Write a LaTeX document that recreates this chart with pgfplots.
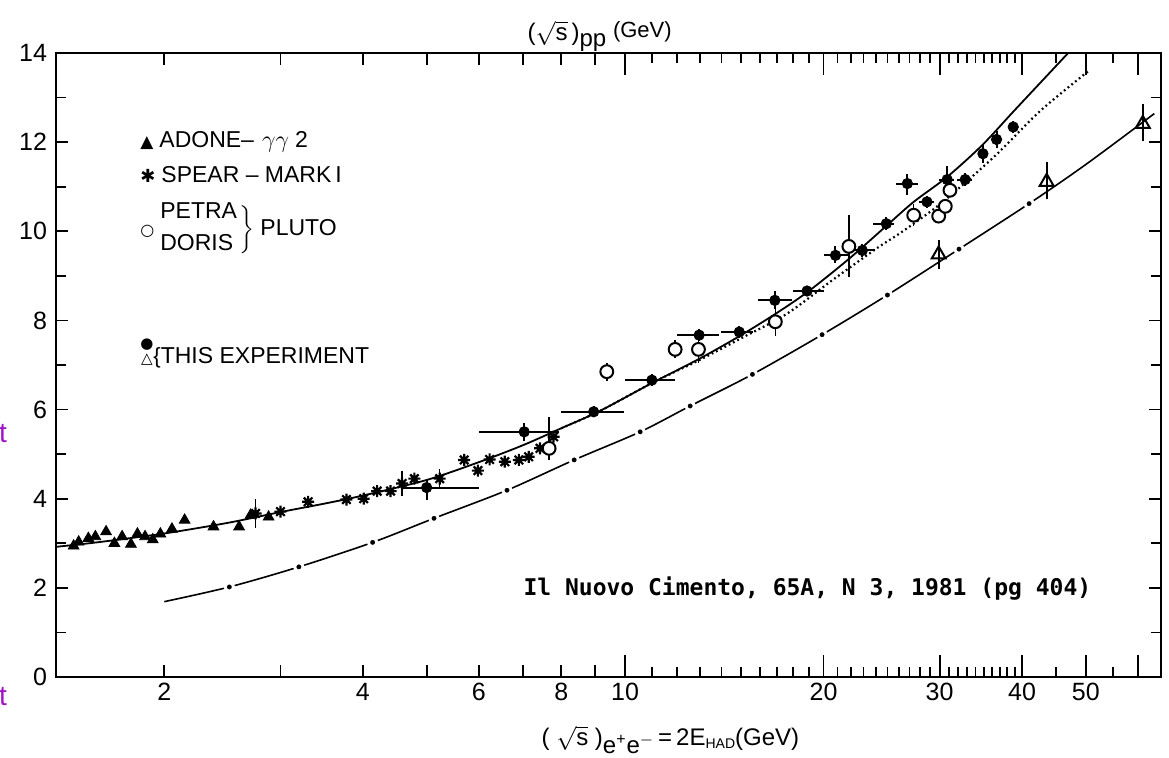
\documentclass[border=0pt]{standalone}
\usepackage{fontspec}
\setmainfont{Liberation Sans}
\newfontfamily\symfont{DejaVu Sans}
\newfontfamily\citefont{DejaVu Sans Mono}
\usepackage{pgfplots}
\usepackage{pgfplotstable}
\pgfplotsset{compat=1.18}

\definecolor{webpurple}{RGB}{160,20,200}

% eight-arm asterisk used by the SPEAR points
\pgfdeclareplotmark{star8}{%
  \pgfpathmoveto{\pgfqpointpolar{0}{\pgfplotmarksize}}\pgfpathlineto{\pgfqpointpolar{180}{\pgfplotmarksize}}%
  \pgfpathmoveto{\pgfqpointpolar{45}{\pgfplotmarksize}}\pgfpathlineto{\pgfqpointpolar{225}{\pgfplotmarksize}}%
  \pgfpathmoveto{\pgfqpointpolar{90}{\pgfplotmarksize}}\pgfpathlineto{\pgfqpointpolar{270}{\pgfplotmarksize}}%
  \pgfpathmoveto{\pgfqpointpolar{135}{\pgfplotmarksize}}\pgfpathlineto{\pgfqpointpolar{315}{\pgfplotmarksize}}%
  \pgfusepathqstroke}

% ADONE gamma-gamma 2
\pgfplotstableread{
x y
1.457 2.94
1.483 3.03
1.534 3.11
1.572 3.15
1.632 3.26
1.680 3.00
1.726 3.15
1.780 2.98
1.821 3.21
1.870 3.15
1.921 3.08
1.973 3.21
2.054 3.32
2.147 3.52
2.375 3.37
2.597 3.37
2.703 3.63
2.879 3.59
}\adone

% SPEAR - MARK I
\pgfplotstableread{
x y ey
2.751 3.67 0.33
3.001 3.71 0
3.305 3.93 0
3.778 3.98 0
4.013 4.00 0
4.206 4.17 0
4.408 4.17 0
4.589 4.34 0.28
4.790 4.45 0
5.233 4.45 0.22
5.700 4.87 0
5.980 4.63 0
6.230 4.88 0
6.570 4.83 0
6.900 4.87 0
7.140 4.94 0
7.430 5.13 0
7.790 5.39 0
}\spear

% this experiment, filled circles
\pgfplotstableread{
x y exm exp eym eyp
5.00 4.25 0.40 1.00 0.28 0.16
7.03 5.50 1.03 0.90 0.20 0.20
8.96 5.95 0.96 1.00 0.12 0.12
10.98 6.66 0.98 0.92 0.14 0.14
12.95 7.67 0.95 0.95 0.14 0.14
14.90 7.74 0.90 0.75 0.14 0.14
16.87 8.45 0.97 1.03 0.20 0.20
18.88 8.66 0.88 1.12 0.12 0.12
20.85 9.46 0.85 1.00 0.18 0.20
22.90 9.57 1.05 1.06 0.14 0.14
24.90 10.17 1.10 0.70 0.14 0.14
26.80 11.07 1.00 1.00 0.26 0.22
28.70 10.66 0.80 0.70 0.14 0.14
30.80 11.16 0.90 0.70 0.20 0.30
32.80 11.16 0.90 0.80 0.14 0.14
34.90 11.74 0.50 0.50 0.20 0.20
36.60 12.06 0.50 0.50 0.20 0.20
38.80 12.34 0.50 0.50 0.14 0.14
}\thisexp

% PETRA / DORIS (PLUTO), open circles
\pgfplotstableread{
x y eym eyp
7.67 5.13 0.26 0.71
9.38 6.85 0.20 0.20
11.91 7.35 0.20 0.20
12.92 7.35 0.30 0.20
16.90 7.97 0.31 0.33
21.85 9.66 0.68 0.70
27.40 10.36 0.25 0.25
29.90 10.34 0.12 0.12
30.60 10.56 0.12 0.12
31.10 10.92 0.12 0.12
}\pluto

% this experiment, open triangles
\pgfplotstableread{
x y eym eyp
29.9 9.48 0.20 0.18
43.6 11.11 0.26 0.30
61.0 12.41 0.26 0.32
}\thistri

\pgfplotstableread{
x y
1.37 2.92
1.6 3.03
2.0 3.22
2.5 3.46
3.0 3.70
3.5 3.89
4.0 4.07
5.0 4.42
6.0 4.82
7.0 5.20
8.0 5.58
9.16 5.97
11.0 6.60
13.0 7.15
15.0 7.67
17.0 8.17
19.0 8.66
21.85 9.38
24.9 10.12
27.4 10.66
30.8 11.22
34.8 11.93
38.9 12.70
43.7 13.50
47.0 14.00
}\solidfit

\pgfplotstableread{
x y
8.0 5.58
9.16 5.97
11.0 6.60
13.0 7.12
15.0 7.60
17.6 8.15
20.7 8.92
24.1 9.62
26.2 9.97
29.4 10.50
32.0 10.95
36.7 11.74
42.7 12.71
50.6 13.61
}\dottedfit

\pgfplotstableread{
x y
2.00 1.69
2.51 2.02
3.20 2.47
4.14 3.02
5.13 3.56
6.62 4.19
8.37 4.87
10.54 5.50
12.55 6.08
15.6 6.79
19.9 7.68
25.0 8.57
32.1 9.60
41.0 10.62
50.0 11.50
63.5 12.64
}\lowerfit

\pgfplotstableread{
x y
2.51 2.02
3.20 2.47
4.14 3.02
5.13 3.56
6.62 4.19
8.37 4.87
10.54 5.50
12.55 6.08
15.6 6.79
19.9 7.68
25.0 8.57
32.1 9.60
41.0 10.62
}\lowerdots

\newcommand\legfont{\fontsize{11.5}{13}\selectfont}

\begin{document}
\begin{tikzpicture}
\begin{axis}[
    scale only axis,
    width=552.5pt, height=312pt,
    xmode=log,
    xmin=1.37, xmax=65, ymin=0, ymax=14,
    axis line style={line width=1pt},
    every tick/.style={black, line width=0.9pt},
    major tick length=6pt, minor tick length=5pt,
    xtick={2,3,4,5,6,7,8,9},
    xticklabels={2,{},4,{},6,{},8,{}},
    extra x ticks={10,20,30,40,50,60},
    extra x tick labels={10,20,30,40,50,{}},
    extra x tick style={major tick length=11pt},
    minor xtick={11,12,13,14,15,16,17,18,19,21,22,23,24,25,26,27,28,29,31,32,33,34,35,36,37,38,39,45,55},
    ytick={0,2,4,6,8,10,12,14},
    minor ytick={1,3,5,7,9,11,13},
    /pgf/number format/assume math mode=true,
    tick label style={font=\fontsize{12.5}{14}\selectfont},
    xticklabel style={yshift=-1pt, inner sep=2pt},
    yticklabel style={xshift=-1pt},
    title={($\sqrt{\mbox{s}}$\,)\raisebox{-0.45ex}{pp}\;\raisebox{0.3ex}{\fontsize{11}{12}\selectfont(GeV)}},
    title style={at={(rel axis cs:0.492,1)}, anchor=base, yshift=0pt, inner sep=0pt, font=\fontsize{12}{14}\selectfont},
    xlabel={(\;$\sqrt{\mbox{s}}$\;)\raisebox{-0.6ex}{e\textsuperscript{+}e\textsuperscript{$-$}}\,=\,2E\raisebox{-0.2ex}{\fontsize{7}{8}\selectfont HAD}(GeV)},
    xlabel style={at={(rel axis cs:0.556,0)}, anchor=base, yshift=-34.5pt, inner sep=0pt, font=\fontsize{12}{14}\selectfont},
    after end axis/.code={
      \node[webpurple, font=\fontsize{14}{16}\selectfont, anchor=base] at (rel axis cs:-0.048,0.375) {t};
      \node[webpurple, font=\fontsize{14}{16}\selectfont, anchor=base] at (rel axis cs:-0.048,-0.045) {t};
    },
]

% fitted curves
\addplot[black, line width=0.9pt, smooth] table {\solidfit};
\addplot[black, line width=1.1pt, dash pattern=on 0.9pt off 1.5pt, smooth] table {\dottedfit};
\addplot[black, line width=0.8pt, smooth] table {\lowerfit};
\addplot[only marks, mark=*, mark size=2.1pt, mark options={fill=black, draw=white, line width=1.5pt}] table {\lowerdots};

% data
\addplot[only marks, mark=triangle*, mark size=3.1pt, black] table {\adone};
\addplot[only marks, mark=star8, mark size=3pt, black, line width=1.1pt,
    error bars/.cd, y dir=both, y explicit, error mark=none,
    error bar style={line width=0.8pt}]
    table[y error=ey] {\spear};
\addplot[only marks, mark=*, mark size=2.6pt, black,
    error bars/.cd, x dir=both, x explicit, y dir=both, y explicit, error mark=none,
    error bar style={line width=1pt}]
    table[x error minus=exm, x error plus=exp, y error minus=eym, y error plus=eyp] {\thisexp};
\addplot[only marks, mark=*, mark size=3.2pt, black, mark options={fill=white, line width=1pt},
    error bars/.cd, y dir=both, y explicit, error mark=none,
    error bar style={line width=0.8pt}]
    table[y error minus=eym, y error plus=eyp] {\pluto};
\addplot[only marks, mark=triangle, mark size=4pt, black, mark options={line width=1pt},
    error bars/.cd, y dir=both, y explicit,
    error bar style={line width=0.9pt},
    error mark options={line width=1pt, mark size=3pt}]
    table[y error minus=eym, y error plus=eyp] {\thistri};

% legend block
\node[anchor=base west, font=\legfont, inner sep=0pt] at (rel axis cs:0.076,0.848)
  {{\symfont\fontsize{8.5}{8}\selectfont ▲}\hspace{3pt}ADONE–\hspace{4pt}$\gamma\gamma$\hspace{3pt}2};
\node[anchor=base west, font=\legfont, inner sep=0pt] at (rel axis cs:0.076,0.792)
  {{\symfont\fontsize{9}{9}\selectfont ✱}\hspace{3pt}SPEAR – MARK\,I};
\node[anchor=west, font=\legfont, inner sep=0pt] at (rel axis cs:0.076,0.717)
  {{\symfont\fontsize{8}{8}\selectfont ○}\hspace{3pt}\begin{tabular}{@{}l@{}}PETRA\\[3pt]DORIS\end{tabular}$\left.\rule[-10pt]{0pt}{22pt}\right\}$\hspace{3pt}PLUTO};
\node[anchor=base west, font=\legfont, inner sep=0pt] at (rel axis cs:0.076,0.503)
  {{\symfont\fontsize{7.5}{6.5}\selectfont\shortstack{●\\[-1.5pt]△}}{\fontsize{11}{10}\selectfont\{}THIS EXPERIMENT};

% source note
\node[anchor=base, inner sep=0pt, font=\citefont\bfseries\fontsize{11.5}{13}\selectfont] at (rel axis cs:0.680,0.131)
  {Il Nuovo Cimento, 65A, N 3, 1981 (pg 404)};

\end{axis}
\pgfresetboundingbox
\path[use as bounding box] ([shift={(-28pt,-40.5pt)}]current axis.south west) rectangle ([shift={(4pt,26.5pt)}]current axis.north east);
\end{tikzpicture}
\end{document}
